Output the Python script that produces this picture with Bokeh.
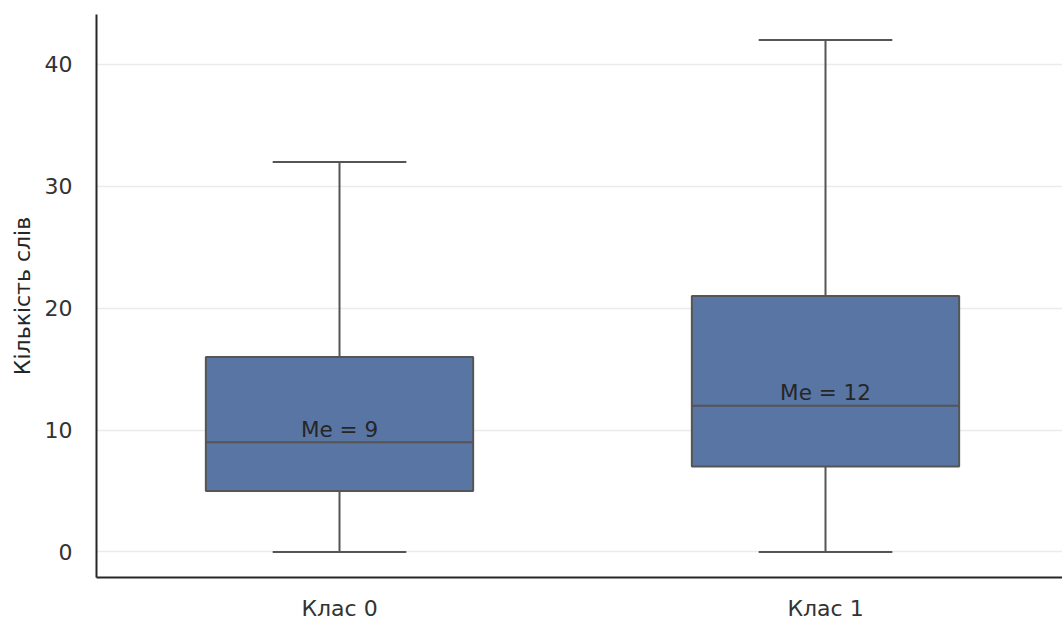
from bokeh.plotting import figure
from bokeh.models import FactorRange, Range1d, FixedTicker, ColumnDataSource
from bokeh.transform import dodge
from bokeh.embed import file_html
from bokeh.resources import INLINE
from bokeh.core.properties import value

# Word-count distribution per class (box plot summary)
classes = ["Клас 0", "Клас 1"]
whisker_low = [0, 0]
q1 = [5, 7]
median = [9, 12]
q3 = [16, 21]
whisker_high = [32, 42]
y_ticks = [0, 10, 20, 30, 40]

FONT = "DejaVu Sans"
BOX_FILL = "#5875a4"
EDGE = "#555555"
BOX_W = 0.55
CAP_W = BOX_W / 2

src = ColumnDataSource(dict(
    cls=classes, lo=whisker_low, q1=q1, med=median, q3=q3, hi=whisker_high,
    label=[f"Me = {m}" for m in median],
))

xr = FactorRange(factors=classes)
p = figure(
    x_range=xr,
    y_range=Range1d(-2.1, 44.1),
    frame_width=972, frame_height=563,
    output_backend="svg", toolbar_location=None,
    min_border_left=96, min_border_right=0, min_border_top=14, min_border_bottom=40,
)
p.outline_line_color = None
p.background_fill_color = "white"

# whiskers
p.segment(x0="cls", y0="q3", x1="cls", y1="hi", source=src, line_color=EDGE, line_width=2)
p.segment(x0="cls", y0="lo", x1="cls", y1="q1", source=src, line_color=EDGE, line_width=2)
# caps
for col in ("hi", "lo"):
    p.segment(x0=dodge("cls", -CAP_W / 2, range=xr), x1=dodge("cls", CAP_W / 2, range=xr),
              y0=col, y1=col, source=src, line_color=EDGE, line_width=2)
# boxes
p.vbar(x="cls", bottom="q1", top="q3", width=BOX_W, source=src,
       fill_color=BOX_FILL, line_color=EDGE, line_width=2)
# median lines
p.segment(x0=dodge("cls", -BOX_W / 2, range=xr), x1=dodge("cls", BOX_W / 2, range=xr),
          y0="med", y1="med", source=src, line_color=EDGE, line_width=2)
# median annotations, sitting just above the median line
p.text(x="cls", y="med", text="label", source=src, text_align="center",
       text_baseline="alphabetic", y_offset=-13, text_font=value(FONT),
       text_font_size="21.5px", text_color="#262626")

# axes & grid
p.xgrid.grid_line_color = None
p.ygrid.ticker = FixedTicker(ticks=y_ticks)
p.ygrid.grid_line_color = "#ebebeb"
p.ygrid.grid_line_width = 1.5
p.ygrid.level = "underlay"

p.yaxis.ticker = FixedTicker(ticks=y_ticks)
p.yaxis.axis_label = "Кількість слів"
for ax in (p.xaxis, p.yaxis):
    ax.axis_line_color = "#262626"
    ax.axis_line_width = 2
    ax.major_tick_line_color = None
    ax.minor_tick_line_color = None
    ax.major_label_text_font = FONT
    ax.major_label_text_font_size = "22px"
    ax.major_label_text_color = "#333333"
    ax.axis_label_text_font = FONT
    ax.axis_label_text_font_size = "22px"
    ax.axis_label_text_font_style = "normal"
    ax.axis_label_text_color = "#262626"
p.yaxis.major_label_standoff = 18
p.xaxis.major_label_standoff = 12
p.yaxis.axis_label_standoff = 7

open("out.html", "w").write(file_html(p, INLINE))
